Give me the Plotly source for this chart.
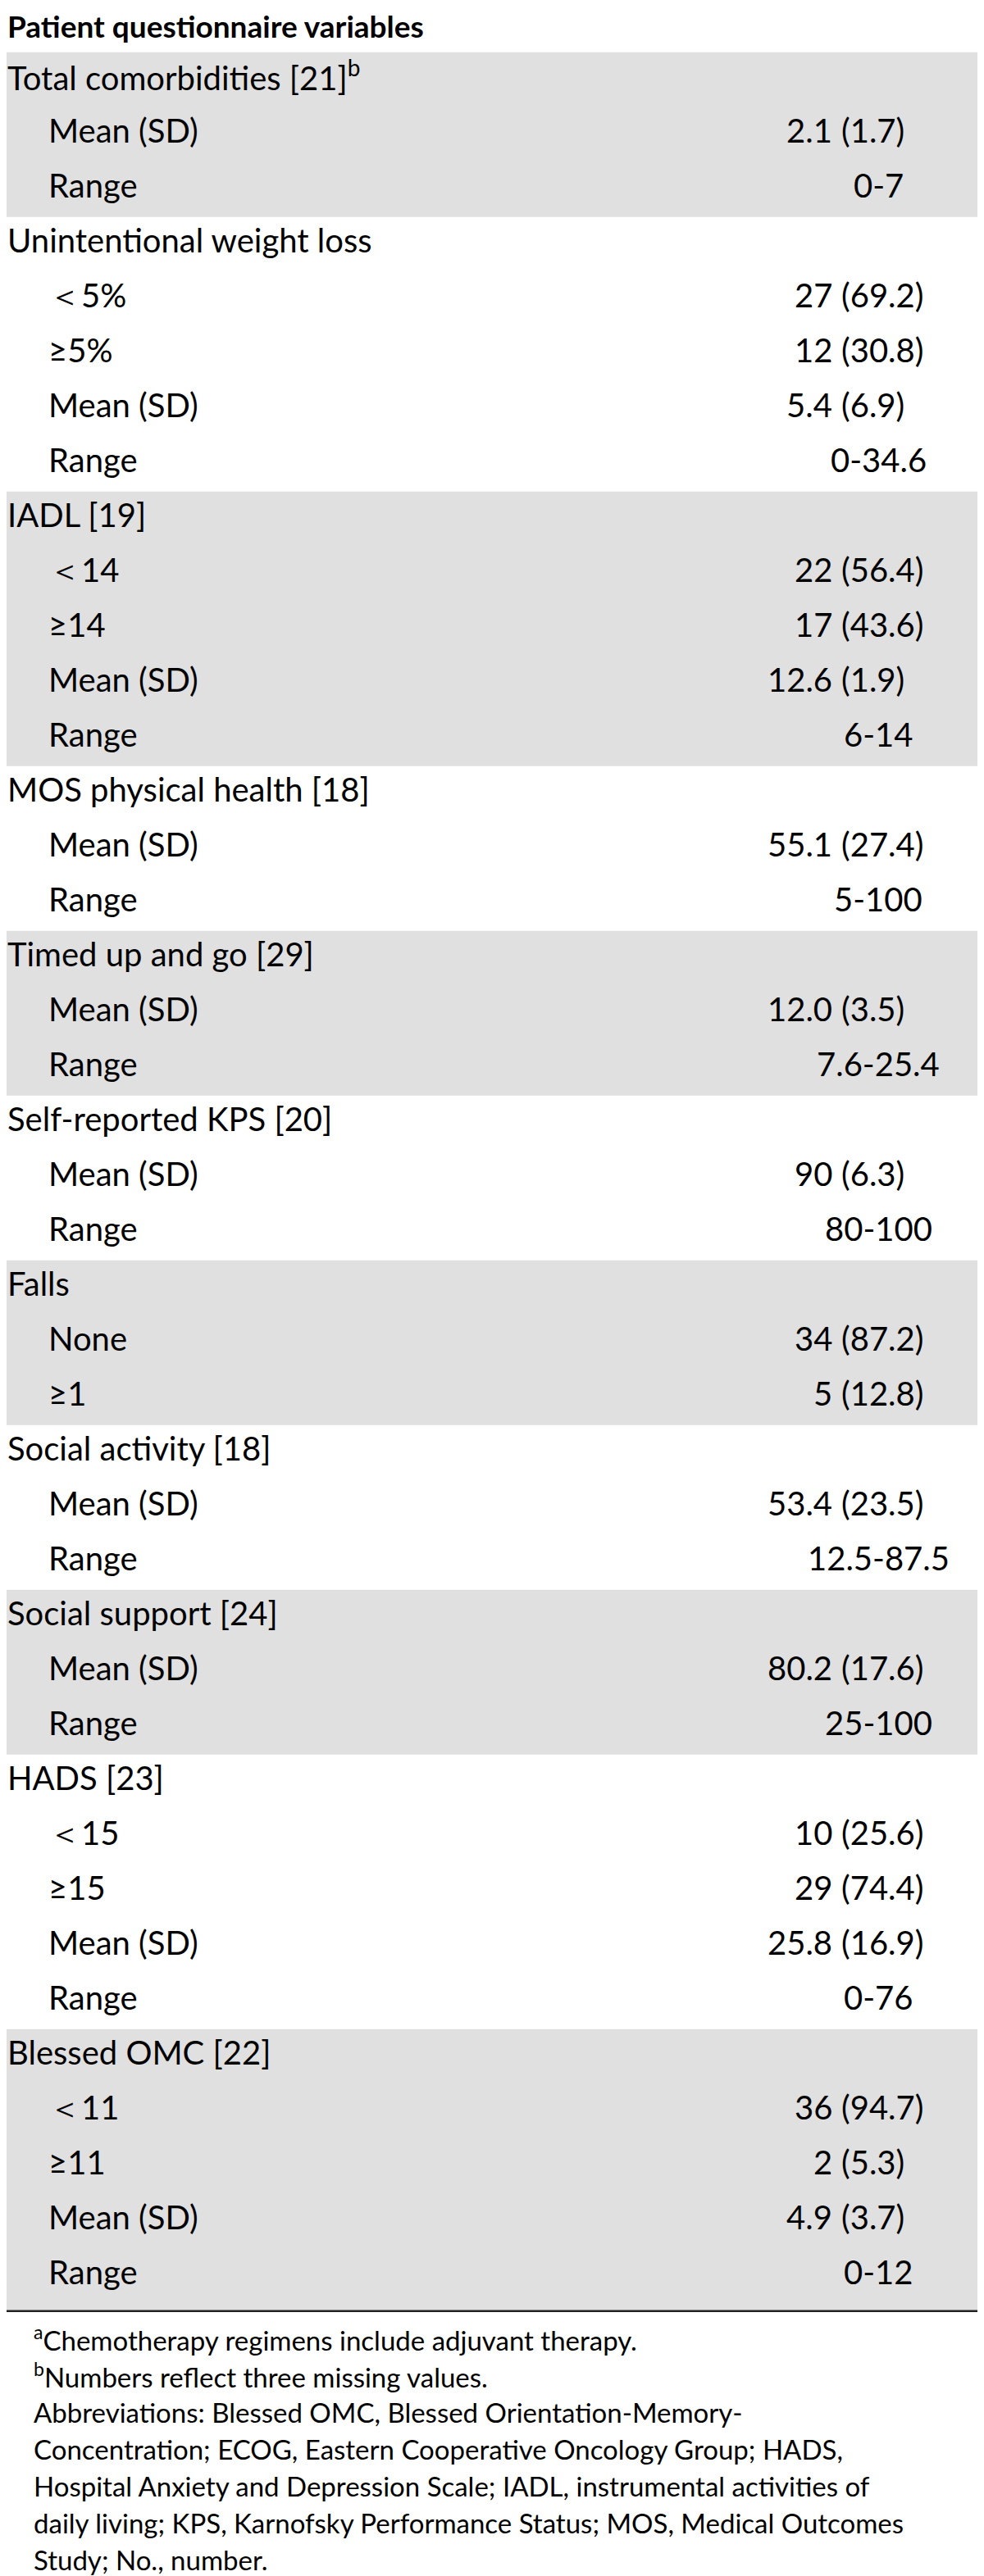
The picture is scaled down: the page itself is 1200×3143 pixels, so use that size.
import plotly.graph_objects as go

W, H = 1200, 3143

title_text = "Patient questionnaire variables"

group_names = [
    "Total comorbidities [21]<sup>b</sup>",
    "Unintentional weight loss",
    "IADL [19]",
    "MOS physical health [18]",
    "Timed up and go [29]",
    "Self-reported KPS [20]",
    "Falls",
    "Social activity [18]",
    "Social support [24]",
    "HADS [23]",
    "Blessed OMC [22]",
]

group_item_labels = [
    ["Mean (SD)", "Range"],
    ["＜5%", "≥5%", "Mean (SD)", "Range"],
    ["＜14", "≥14", "Mean (SD)", "Range"],
    ["Mean (SD)", "Range"],
    ["Mean (SD)", "Range"],
    ["Mean (SD)", "Range"],
    ["None", "≥1"],
    ["Mean (SD)", "Range"],
    ["Mean (SD)", "Range"],
    ["＜15", "≥15", "Mean (SD)", "Range"],
    ["＜11", "≥11", "Mean (SD)", "Range"],
]

group_item_values = [
    ["2.1 (1.7)", "0-7"],
    ["27 (69.2)", "12 (30.8)", "5.4 (6.9)", "0-34.6"],
    ["22 (56.4)", "17 (43.6)", "12.6 (1.9)", "6-14"],
    ["55.1 (27.4)", "5-100"],
    ["12.0 (3.5)", "7.6-25.4"],
    ["90 (6.3)", "80-100"],
    ["34 (87.2)", "5 (12.8)"],
    ["53.4 (23.5)", "12.5-87.5"],
    ["80.2 (17.6)", "25-100"],
    ["10 (25.6)", "29 (74.4)", "25.8 (16.9)", "0-76"],
    ["36 (94.7)", "2 (5.3)", "4.9 (3.7)", "0-12"],
]

footnotes = [
    "<sup>a</sup>Chemotherapy regimens include adjuvant therapy.",
    "<sup>b</sup>Numbers reflect three missing values.",
    "Abbreviations: Blessed OMC, Blessed Orientation-Memory-",
    "Concentration; ECOG, Eastern Cooperative Oncology Group; HADS,",
    "Hospital Anxiety and Depression Scale; IADL, instrumental activities of",
    "daily living; KPS, Karnofsky Performance Status; MOS, Medical Outcomes",
    "Study; No., number.",
]

# ---- layout constants (styles / positions) ----
FONT = "Lato, 'Open Sans', sans-serif"
BODY_SIZE = 40
TITLE_SIZE = 37
FOOT_SIZE = 33
TOP = 55.7
ROW_H = 67.0
INDENT = 50
PAREN_X = 1017
LEFT_END_X = 1008
RANGE_CX = 1063
GRAY = "#e0e0e0"
TEXT_DY = -5
BOTTOM_PAD = 9
FOOT_X = 32
FOOT_Y0 = 2845
FOOT_DY = 45

fig = go.Figure()
fig.add_trace(go.Scatter(x=[0, W], y=[0, H], mode="markers",
                         marker=dict(opacity=0), hoverinfo="skip"))

annotations = []
shapes = []

def ann(x, y, text, xanchor, size=BODY_SIZE, bold=False, yanchor="middle"):
    annotations.append(dict(
        x=x, y=y, xref="x", yref="y", text=("<b>%s</b>" % text) if bold else text,
        showarrow=False, xanchor=xanchor, yanchor=yanchor, borderpad=0,
        font=dict(family=FONT, size=size, color="#000000"), align="left"))

ann(0, 0, title_text, "left", size=TITLE_SIZE, bold=True, yanchor="top")

n_groups = len(group_names)
row = 0
for g, name in enumerate(group_names):
    n_rows = 1 + len(group_item_labels[g])
    y0 = TOP + row * ROW_H
    y1 = TOP + (row + n_rows) * ROW_H
    if g == n_groups - 1:
        y1 += BOTTOM_PAD
    if g % 2 == 0:
        shapes.append(dict(type="rect", xref="x", yref="y", x0=0, x1=W, y0=y0, y1=y1,
                           fillcolor=GRAY, line=dict(width=0), layer="below"))
    ann(0, y0 + ROW_H / 2 + TEXT_DY, name, "left")
    row += 1
    for lab, val in zip(group_item_labels[g], group_item_values[g]):
        yc = TOP + (row + 0.5) * ROW_H + TEXT_DY
        ann(INDENT, yc, lab, "left")
        if " (" in val:
            left, right = val.split(" (", 1)
            ann(LEFT_END_X, yc, left, "right")
            ann(PAREN_X, yc, "(" + right, "left")
        else:
            ann(RANGE_CX, yc, val, "center")
        row += 1

bottom = TOP + row * ROW_H + BOTTOM_PAD
shapes.append(dict(type="line", xref="x", yref="y", x0=0, x1=W, y0=bottom, y1=bottom,
                   line=dict(color="#222222", width=2.5)))

for i, t in enumerate(footnotes):
    ann(FOOT_X, FOOT_Y0 + i * FOOT_DY, t, "left", size=FOOT_SIZE)

fig.update_layout(
    width=W, height=H, margin=dict(l=0, r=0, t=0, b=0),
    paper_bgcolor="white", plot_bgcolor="white", showlegend=False,
    xaxis=dict(range=[0, W], visible=False, fixedrange=True),
    yaxis=dict(range=[H, 0], visible=False, fixedrange=True),
    annotations=annotations, shapes=shapes,
)

fig.write_html("out.html")
